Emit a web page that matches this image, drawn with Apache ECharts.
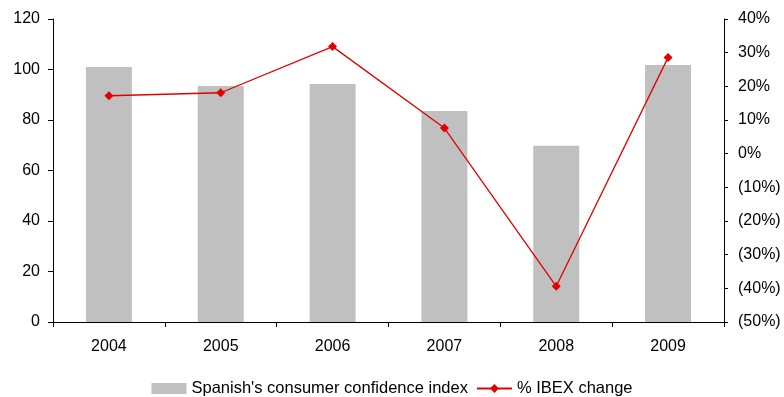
<!DOCTYPE html>
<html>
<head>
<meta charset="utf-8">
<script src="https://cdn.jsdelivr.net/npm/echarts@6/dist/echarts.min.js"></script>
<style>
  html, body { margin: 0; padding: 0; background: #fff; }
  #chart { width: 784px; height: 397px; }
</style>
</head>
<body>
<div id="chart"></div>
<script>
// Yearly categories
const years = ['2004', '2005', '2006', '2007', '2008', '2009'];
// Spanish consumer confidence index (left axis)
const confidence = [101.0, 93.5, 94.3, 83.6, 69.8, 101.8];
// Yearly % change of the IBEX index (right axis)
const ibexChange = [17.2, 18.1, 31.8, 7.6, -39.4, 28.6];

const FONT = 'Liberation Sans, Arial, sans-serif';
const axisText = { color: '#000', fontFamily: FONT, fontSize: 16 };
const axisLine = { show: true, lineStyle: { color: '#000', width: 1 } };

function pctLabel(v) {
  const r = Math.round(v);
  return r < 0 ? '(' + Math.abs(r) + '%)' : r + '%';
}

const chart = echarts.init(document.getElementById('chart'), null, { renderer: 'canvas' });
chart.setOption({
  animation: false,
  backgroundColor: '#fff',
  grid: { left: 53, right: 60, top: 19, bottom: 75, containLabel: false },
  legend: {
    bottom: 0,
    left: 'center',
    padding: 0,
    itemGap: 8,
    itemWidth: 35,
    itemHeight: 11,
    textStyle: { color: '#000', fontFamily: FONT, fontSize: 16.5 },
    data: [
      { name: "Spanish's consumer confidence index", icon: 'rect' },
      { name: '% IBEX change' }
    ]
  },
  xAxis: {
    type: 'category',
    data: years,
    axisLine: axisLine,
    axisTick: { show: true, length: 5, lineStyle: { color: '#000' } },
    axisLabel: Object.assign({ margin: 17 }, axisText),
    splitLine: { show: false }
  },
  yAxis: [
    {
      type: 'value',
      min: 0, max: 120, interval: 20,
      axisLine: axisLine,
      axisTick: { show: true, length: 5, lineStyle: { color: '#000' } },
      axisLabel: Object.assign({ margin: 13 }, axisText),
      splitLine: { show: false }
    },
    {
      type: 'value',
      position: 'right',
      min: -50, max: 40, interval: 10,
      axisLine: axisLine,
      axisTick: { show: true, length: 4, lineStyle: { color: '#000' } },
      axisLabel: Object.assign({ margin: 14, formatter: pctLabel }, axisText),
      splitLine: { show: false }
    }
  ],
  series: [
    {
      name: "Spanish's consumer confidence index",
      type: 'bar',
      yAxisIndex: 0,
      data: confidence,
      barWidth: 46,
      itemStyle: { color: '#C0C0C0' }
    },
    {
      name: '% IBEX change',
      type: 'line',
      yAxisIndex: 1,
      data: ibexChange,
      symbol: 'diamond',
      symbolSize: 9,
      lineStyle: { color: '#E00000', width: 1.3 },
      itemStyle: { color: '#E00000' }
    }
  ]
});
</script>
</body>
</html>
